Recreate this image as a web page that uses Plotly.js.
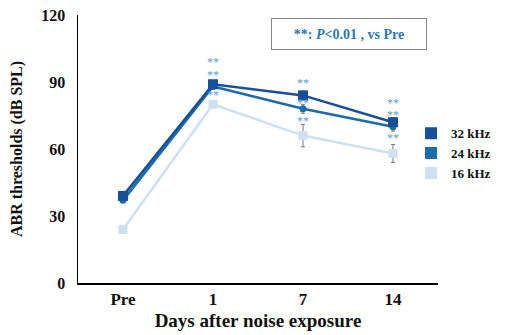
<!DOCTYPE html>
<html>
<head>
<meta charset="utf-8">
<script src="https://cdn.plot.ly/plotly-3.0.1.min.js"></script>
<style>
  html, body { margin: 0; padding: 0; background: #fff; }
  #chart { width: 509px; height: 335px; }
</style>
</head>
<body>
<div id="chart"></div>
<script>
// Time points (days after noise exposure)
const days = ['Pre', '1', '7', '14'];

// ABR thresholds (dB SPL), mean and SEM per frequency
const khz32 = [39, 89, 84, 72];
const khz32Err = [1, 1.5, 2, 2];
const khz24 = [37, 88, 78, 70];
const khz24Err = [1, 1, 2, 2];
const khz16 = [24, 80, 66, 58];
const khz16Err = [1, 1, 5, 4];

// Significance marks (P<0.01 vs Pre) for each series at each time point
const sig32 = ['', '**', '**', '**'];
const sig24 = ['', '**', '**', '**'];
const sig16 = ['', '**', '**', '**'];

const serif = 'Times New Roman, Liberation Serif, DejaVu Serif, serif';
const colors = { k32: '#174f98', k24: '#1b6ca8', k16: '#cfe0f0' };

function series(y, err, color, symbol, size) {
  return {
    x: days, y: y, type: 'scatter', mode: 'lines+markers',
    line: { color: color, width: 2.5 },
    marker: { color: color, symbol: symbol, size: size },
    error_y: { type: 'data', array: err, visible: true, color: '#777', thickness: 1, width: 2 },
    showlegend: false, hoverinfo: 'skip'
  };
}

function legendKey(name, color) {
  return {
    x: [null], y: [null], type: 'scatter', mode: 'markers', name: name,
    marker: { color: color, symbol: 'square', size: 12 }
  };
}

const traces = [
  series(khz16, khz16Err, colors.k16, 'square', 9),
  series(khz24, khz24Err, colors.k24, 'circle', 7),
  series(khz32, khz32Err, colors.k32, 'square', 10),
  legendKey('32 kHz', colors.k32),
  legendKey('24 kHz', colors.k24),
  legendKey('16 kHz', colors.k16)
];

// Pixel offsets of the "**" marks above each marker
const shift32 = [0, 22, 12, 19];
const shift24 = [0, 11, 6, 12];
const shift16 = [0, 9, 15, 15];

const annotations = [];
function addSig(marks, vals, shifts) {
  marks.forEach((m, i) => {
    if (!m) return;
    annotations.push({
      x: i, y: vals[i], xref: 'x', yref: 'y', text: m, showarrow: false,
      yshift: shifts[i], xanchor: 'center', yanchor: 'middle',
      font: { family: serif, size: 12, color: '#5b9bcf' }
    });
  });
}
addSig(sig32, khz32, shift32);
addSig(sig24, khz24, shift24);
addSig(sig16, khz16, shift16);

annotations.push({
  xref: 'paper', yref: 'paper', x: 0.753, y: 0.929, xanchor: 'center', yanchor: 'middle',
  text: '**: <i>P</i><0.01 , vs Pre', showarrow: false,
  font: { family: serif, size: 14, color: '#2b78b3', weight: 'bold' },
  bordercolor: '#888', borderwidth: 1, width: 152, height: 28, borderpad: 1
});

const layout = {
  width: 509, height: 335,
  margin: { l: 78, r: 71, t: 15, b: 52, autoexpand: false },
  paper_bgcolor: '#fff', plot_bgcolor: '#fff',
  font: { family: serif, color: '#111' },
  xaxis: {
    type: 'category', range: [-0.5, 3.5],
    showline: true, linecolor: '#000', linewidth: 1.5,
    showgrid: false, zeroline: false, ticks: '',
    tickfont: { family: serif, size: 17, weight: 'bold', color: '#111' },
    title: { text: 'Days after noise exposure', standoff: 6,
             font: { family: serif, size: 19, weight: 'bold', color: '#111' } }
  },
  yaxis: {
    range: [0, 120], tickvals: [0, 30, 60, 90, 120],
    showline: true, linecolor: '#000', linewidth: 1.5,
    showgrid: false, zeroline: false, ticks: '',
    ticklabelstandoff: 8,
    tickfont: { family: serif, size: 16, weight: 'bold', color: '#111' },
    title: { text: 'ABR thresholds (dB SPL)', standoff: 14,
             font: { family: serif, size: 16, weight: 'bold', color: '#111' } }
  },
  legend: {
    x: 0.925, y: 0.615, xanchor: 'left', yanchor: 'top',
    font: { family: serif, size: 13, weight: 'bold', color: '#111' },
    tracegroupgap: 0, itemwidth: 30, bgcolor: 'rgba(0,0,0,0)'
  },
  annotations: annotations
};

Plotly.newPlot('chart', traces, layout, { displayModeBar: false, staticPlot: true });
</script>
</body>
</html>
